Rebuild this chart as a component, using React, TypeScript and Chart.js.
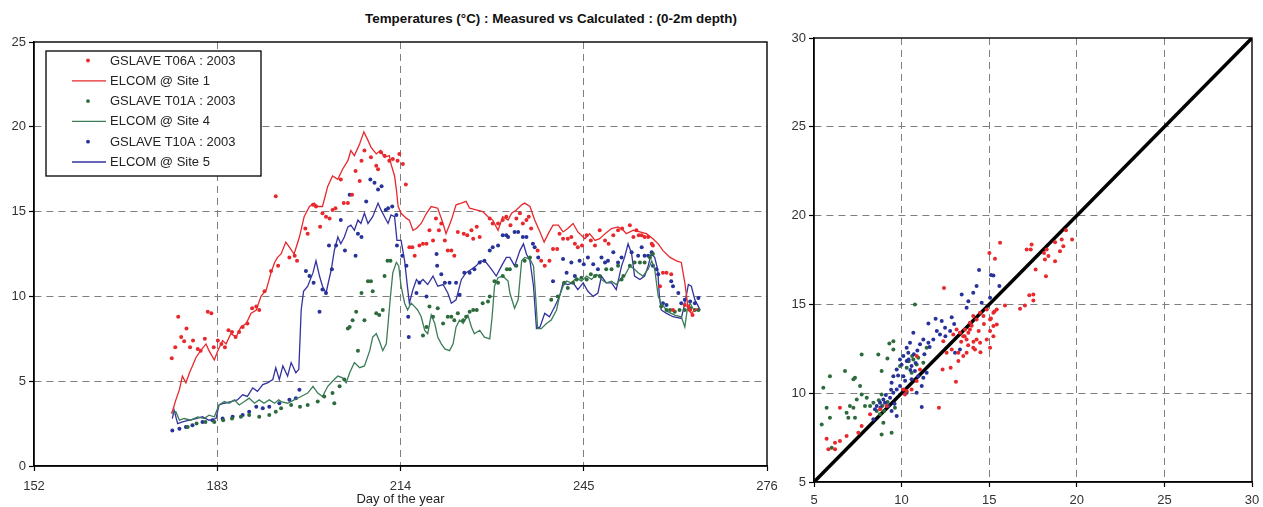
import React, { useEffect, useRef } from "react";
import { Chart, registerables } from "chart.js";

Chart.register(...registerables);

const FONT = "'Liberation Sans', Arial, Helvetica, sans-serif";

// ---------- Tick labels ----------
const dayTicks = [152, 183, 214, 245, 276];
const tempTicks = [0, 5, 10, 15, 20, 25];
const scatterTicks = [5, 10, 15, 20, 25, 30];

// ---------- Left panel: ELCOM model lines ----------
const site1Days = [175.2, 175.4, 176.0, 176.6, 177.1, 177.7, 178.3, 178.8, 179.4, 180.2, 181.1, 181.6, 182.5, 183.1, 183.9, 184.5, 185.3, 186.2, 187.0, 187.9, 188.7, 189.6, 190.4, 191.3, 192.1, 192.7, 193.2, 193.8, 194.6, 195.2, 196.0, 196.9, 197.7, 198.6, 199.4, 200.0, 200.8, 201.1, 201.7, 202.5, 203.4, 204.2, 205.1, 205.6, 206.2, 207.1, 207.8, 208.5, 209.0, 209.9, 210.6, 211.3, 212.1, 212.4, 213.0, 213.3, 213.6, 214.1, 215.0, 215.5, 216.1, 216.7, 217.5, 218.4, 219.2, 220.3, 221.2, 221.7, 222.6, 223.4, 224.3, 225.1, 225.7, 226.8, 227.9, 228.8, 229.6, 230.5, 231.3, 232.2, 232.8, 233.6, 234.5, 235.0, 235.9, 236.7, 237.6, 238.3, 239.0, 239.8, 240.7, 241.5, 242.3, 243.2, 244.0, 245.2, 246.0, 246.9, 247.7, 248.6, 249.7, 250.8, 251.7, 252.2, 253.4, 254.5, 255.6, 256.7, 257.6, 258.4, 259.6, 260.7, 261.5, 262.1, 262.4, 262.7, 263.2, 263.8, 264.4];
const site1Temps = [3.1, 3.2, 3.9, 4.5, 5.3, 4.9, 5.5, 5.9, 6.4, 6.8, 7.2, 6.8, 6.25, 6.8, 7.4, 7.2, 7.8, 7.6, 8.2, 8.4, 9.0, 9.2, 10.0, 10.4, 11.4, 12.0, 12.3, 12.5, 13.2, 12.9, 12.5, 13.5, 14.7, 15.3, 15.5, 15.3, 15.3, 15.7, 16.5, 17.1, 16.9, 17.5, 18.0, 18.6, 18.3, 19.0, 19.7, 19.2, 18.8, 18.4, 18.6, 18.2, 18.3, 17.8, 17.1, 16.3, 15.3, 14.9, 14.6, 14.5, 13.9, 14.0, 14.3, 14.9, 15.3, 15.2, 14.3, 13.7, 14.5, 15.4, 15.5, 15.6, 15.2, 15.1, 15.0, 14.7, 14.5, 13.9, 14.7, 14.5, 14.9, 15.1, 15.4, 15.5, 15.3, 14.5, 13.8, 13.2, 13.7, 14.2, 14.2, 13.8, 14.0, 14.3, 13.8, 13.4, 13.7, 13.3, 13.4, 13.7, 14.0, 14.1, 13.9, 13.7, 13.9, 13.8, 13.7, 13.4, 13.1, 12.7, 12.3, 12.1, 12.0, 10.8, 10.0, 9.2, 9.0, 9.2, 9.3];

const site4Days = [175.4, 176.0, 176.6, 177.4, 178.5, 179.7, 180.8, 181.6, 182.5, 183.3, 184.2, 185.0, 185.9, 186.7, 187.6, 188.4, 189.3, 190.1, 190.9, 191.8, 192.7, 193.4, 193.8, 194.9, 196.0, 197.2, 198.3, 199.2, 200.0, 200.8, 201.7, 202.5, 203.4, 204.2, 204.8, 205.4, 206.2, 207.1, 207.9, 208.8, 209.3, 209.9, 210.4, 211.0, 211.6, 211.9, 212.3, 212.7, 213.3, 213.7, 214.1, 214.7, 215.2, 215.8, 216.4, 216.9, 217.5, 218.1, 218.6, 219.2, 219.8, 220.3, 220.9, 221.5, 222.3, 222.9, 223.4, 224.0, 224.6, 225.4, 226.0, 226.5, 227.4, 228.2, 229.1, 229.5, 229.9, 230.5, 231.3, 232.2, 232.5, 233.3, 233.9, 234.5, 235.0, 235.9, 236.5, 236.9, 237.2, 237.8, 238.7, 239.5, 240.4, 240.9, 241.5, 242.1, 242.9, 243.8, 244.6, 245.5, 246.3, 247.2, 248.0, 248.8, 249.7, 250.5, 251.4, 251.9, 252.8, 253.6, 254.2, 255.0, 255.9, 256.5, 257.0, 257.6, 258.1, 259.2, 260.4, 261.5, 262.1, 262.5, 263.0, 263.6, 264.4];
const site4Temps = [3.1, 3.2, 2.7, 2.8, 2.7, 2.9, 2.8, 3.0, 2.9, 3.6, 3.8, 3.7, 3.9, 3.6, 3.8, 4.0, 3.7, 3.9, 3.7, 3.9, 3.7, 3.9, 3.8, 3.7, 3.9, 4.1, 4.3, 4.7, 4.3, 4.1, 4.7, 5.0, 5.3, 5.2, 4.9, 5.5, 6.1, 5.8, 5.9, 6.8, 7.6, 7.8, 7.4, 6.8, 7.2, 8.4, 10.0, 11.4, 12.0, 11.8, 10.6, 9.6, 9.2, 9.6, 9.4, 9.2, 8.8, 8.0, 7.8, 8.9, 8.4, 7.6, 7.2, 6.9, 6.8, 7.2, 8.2, 8.6, 8.4, 8.9, 8.2, 7.8, 8.0, 7.6, 7.5, 8.8, 10.6, 11.1, 11.2, 10.9, 10.2, 9.3, 9.8, 12.1, 12.3, 12.2, 11.8, 9.8, 8.1, 8.1, 8.4, 8.6, 9.2, 10.0, 10.6, 10.9, 10.8, 11.1, 10.9, 11.2, 11.0, 11.3, 11.0, 10.8, 10.9, 10.7, 11.1, 11.2, 11.8, 11.6, 11.4, 11.2, 11.6, 12.1, 11.6, 10.0, 9.6, 9.1, 8.9, 8.8, 8.2, 9.2, 9.6, 9.2, 9.2];

const site5Days = [175.4, 175.7, 176.3, 177.1, 178.3, 179.4, 180.5, 181.6, 182.8, 183.3, 184.2, 185.3, 186.4, 187.3, 188.1, 189.0, 189.8, 190.7, 191.5, 192.4, 192.9, 193.5, 194.1, 194.9, 195.5, 196.3, 196.8, 197.2, 197.6, 198.3, 199.2, 199.7, 200.3, 200.8, 201.4, 202.3, 202.8, 203.4, 203.9, 204.5, 205.1, 205.6, 206.2, 206.8, 207.3, 207.9, 208.5, 209.3, 210.2, 210.7, 211.3, 211.9, 212.4, 213.0, 213.4, 214.1, 214.7, 215.1, 215.5, 216.1, 216.7, 217.2, 217.8, 218.6, 219.5, 220.3, 221.2, 222.0, 222.6, 223.4, 224.3, 225.1, 226.0, 226.8, 227.6, 228.5, 229.4, 230.2, 231.1, 231.9, 232.5, 233.3, 234.2, 234.8, 235.3, 235.9, 236.5, 237.0, 237.6, 238.4, 239.2, 240.1, 240.9, 241.5, 242.3, 243.2, 244.0, 244.9, 245.7, 246.6, 247.4, 248.0, 248.8, 249.7, 250.5, 251.4, 251.9, 252.5, 253.1, 253.6, 254.5, 255.3, 255.9, 256.4, 257.0, 257.5, 257.8, 258.1, 259.0, 260.1, 261.5, 262.1, 262.7, 263.2, 263.8, 264.4, 264.7];
const site5Temps = [2.8, 3.3, 2.5, 2.6, 2.7, 2.8, 2.9, 2.7, 2.8, 3.6, 3.7, 3.8, 3.9, 4.2, 4.1, 4.6, 4.4, 4.8, 4.9, 5.1, 5.8, 5.1, 5.9, 5.3, 6.1, 5.5, 5.7, 9.2, 10.3, 10.6, 11.4, 12.1, 11.2, 10.6, 10.2, 11.6, 12.7, 13.5, 13.1, 13.5, 14.1, 14.2, 13.9, 14.5, 14.3, 14.9, 14.3, 14.7, 15.5, 15.1, 14.7, 14.3, 14.8, 14.7, 13.3, 13.3, 12.1, 10.8, 9.6, 10.4, 11.0, 10.8, 11.0, 10.7, 11.2, 10.6, 10.7, 10.2, 9.6, 9.8, 11.0, 11.4, 11.6, 11.8, 12.1, 12.0, 11.6, 11.2, 11.8, 12.3, 12.3, 11.8, 12.7, 13.1, 12.5, 12.1, 10.6, 8.1, 8.2, 9.0, 8.8, 9.4, 10.0, 10.8, 10.7, 10.8, 10.4, 10.8, 10.3, 10.0, 10.2, 11.2, 10.8, 10.8, 10.4, 11.8, 12.3, 13.1, 12.5, 11.2, 11.0, 11.2, 11.8, 12.5, 12.3, 11.6, 10.0, 9.2, 9.0, 8.8, 8.7, 9.6, 10.7, 10.6, 9.8, 9.4, 9.2];

// ---------- Left panel: GSLAVE measurements ----------
const t06aDays = [175.3, 175.9, 176.4, 176.9, 177.4, 177.8, 178.4, 178.9, 179.7, 180.2, 180.9, 181.4, 182.0, 182.4, 183.1, 183.7, 184.3, 184.9, 185.5, 186.1, 186.7, 187.3, 188.1, 188.9, 189.6, 190.1, 191.0, 192.1, 192.9, 193.3, 195.2, 196.1, 196.5, 197.9, 198.3, 199.2, 199.7, 200.4, 200.8, 201.4, 202.0, 202.5, 203.0, 203.9, 204.4, 205.1, 205.8, 206.4, 207.1, 207.4, 207.9, 209.0, 209.9, 210.2, 210.7, 211.3, 212.1, 212.7, 213.5, 213.8, 214.4, 214.9, 215.5, 216.0, 216.4, 217.2, 217.8, 218.4, 218.9, 219.5, 220.0, 220.5, 220.9, 221.5, 222.0, 222.6, 223.1, 223.7, 224.7, 225.3, 226.0, 226.3, 226.9, 227.4, 229.1, 229.6, 230.5, 231.3, 231.9, 232.6, 233.6, 234.2, 234.7, 235.3, 235.7, 236.1, 237.2, 237.8, 238.4, 239.2, 239.8, 240.5, 240.9, 241.5, 242.3, 242.9, 243.5, 244.0, 244.7, 245.5, 246.2, 246.9, 247.7, 248.6, 249.2, 250.0, 250.8, 251.5, 252.8, 253.4, 253.9, 254.3, 254.8, 255.3, 255.9, 256.5, 256.7, 257.9, 258.4, 259.0, 259.8, 260.1, 262.1, 262.7, 263.0, 263.4];
const t06aTemps = [6.35, 7.0, 8.8, 7.6, 7.35, 8.1, 7.0, 7.4, 6.9, 6.8, 7.5, 9.1, 9.0, 7.0, 7.4, 7.2, 7.0, 8.0, 7.9, 7.6, 7.9, 8.2, 8.4, 9.3, 9.4, 9.2, 10.3, 11.5, 15.9, 11.8, 12.3, 12.4, 12.1, 14.0, 13.7, 15.4, 15.3, 14.1, 14.9, 14.7, 14.6, 15.1, 15.2, 16.9, 15.5, 15.5, 16.0, 17.4, 16.8, 18.0, 18.6, 18.2, 17.7, 17.5, 18.5, 18.3, 18.0, 18.1, 18.0, 18.4, 17.8, 16.6, 12.9, 12.9, 12.4, 13.0, 13.1, 13.1, 13.9, 13.3, 14.6, 13.9, 14.3, 13.3, 12.7, 12.7, 12.4, 13.8, 13.7, 13.6, 13.9, 13.4, 14.1, 13.5, 14.6, 14.3, 14.3, 14.5, 14.7, 14.2, 14.6, 14.9, 14.3, 14.5, 14.7, 14.0, 12.7, 12.1, 11.8, 12.1, 12.8, 12.8, 13.7, 13.4, 13.4, 13.5, 13.1, 12.9, 13.0, 13.6, 13.3, 13.0, 13.9, 13.3, 13.1, 13.6, 13.9, 14.0, 14.2, 13.5, 13.9, 13.6, 13.6, 13.5, 13.5, 13.1, 13.0, 10.6, 11.4, 11.4, 11.3, 9.2, 9.5, 9.4, 9.2, 8.9];

const t01aDays = [178.0, 179.5, 181.0, 182.5, 184.0, 185.5, 187.0, 188.4, 190.1, 191.8, 192.9, 193.8, 195.5, 197.0, 198.3, 200.0, 201.1, 202.5, 202.8, 203.7, 204.5, 205.1, 205.4, 205.9, 206.5, 206.8, 207.4, 207.9, 208.5, 209.0, 209.3, 209.9, 210.4, 211.0, 211.3, 211.8, 212.3, 217.8, 218.4, 218.9, 219.5, 220.3, 221.2, 222.0, 222.6, 223.1, 223.7, 224.6, 225.1, 225.7, 226.3, 226.9, 227.9, 228.8, 229.1, 229.9, 230.5, 231.3, 232.0, 232.5, 233.6, 235.0, 235.9, 239.5, 240.6, 241.7, 242.3, 243.2, 243.8, 244.6, 245.5, 246.2, 246.9, 247.7, 248.8, 249.7, 250.8, 251.4, 251.7, 252.8, 253.6, 254.5, 255.3, 256.2, 256.7, 258.1, 259.0, 259.6, 260.4, 261.2, 262.1, 263.0, 263.8, 264.4];
const t01aTemps = [2.3, 2.5, 2.6, 2.6, 2.7, 2.8, 2.9, 3.0, 2.9, 3.0, 3.2, 3.4, 3.6, 3.5, 3.6, 3.8, 4.1, 4.3, 3.7, 4.7, 5.1, 8.1, 8.2, 8.6, 9.1, 6.8, 10.2, 8.6, 10.9, 10.9, 10.3, 9.0, 8.9, 9.2, 11.2, 12.1, 12.1, 7.7, 8.2, 9.4, 8.8, 9.3, 8.4, 8.8, 8.8, 8.6, 9.0, 8.6, 8.8, 9.1, 9.2, 9.2, 9.6, 9.7, 10.0, 10.9, 10.8, 11.2, 11.6, 11.6, 11.8, 12.1, 12.3, 9.8, 10.0, 10.8, 10.5, 10.8, 11.0, 11.1, 11.0, 11.3, 11.2, 11.2, 11.6, 11.6, 11.8, 11.0, 11.2, 11.8, 12.0, 12.0, 12.0, 12.3, 12.5, 9.4, 9.2, 9.2, 9.1, 9.2, 9.2, 9.3, 9.2, 9.2];

const t10aDays = [175.4, 176.6, 177.7, 178.8, 180.5, 182.2, 183.9, 185.6, 187.3, 188.4, 189.6, 190.7, 191.8, 193.5, 195.2, 196.3, 196.9, 198.0, 198.6, 199.3, 200.3, 200.8, 201.4, 201.9, 202.4, 203.1, 203.9, 204.6, 205.4, 206.4, 206.8, 207.4, 208.2, 208.9, 209.6, 210.2, 210.8, 211.5, 211.9, 212.6, 213.3, 213.4, 214.3, 215.0, 215.3, 215.4, 216.7, 217.2, 218.4, 220.1, 220.2, 220.9, 221.5, 222.3, 223.4, 224.0, 224.8, 225.7, 226.5, 227.4, 228.2, 229.1, 229.6, 230.5, 231.3, 231.9, 232.2, 233.3, 233.9, 234.7, 235.3, 236.4, 236.7, 237.3, 239.8, 241.5, 242.1, 242.9, 243.5, 244.3, 245.0, 245.7, 246.6, 247.4, 248.0, 248.6, 249.1, 250.0, 250.8, 251.4, 253.1, 254.2, 254.8, 255.3, 255.9, 256.5, 256.7, 257.3, 257.6, 258.4, 259.0, 259.8, 260.1, 261.0, 261.5, 262.1, 263.0, 263.8, 264.4];
const t10aTemps = [2.1, 2.2, 2.3, 2.4, 2.6, 2.7, 2.8, 2.9, 3.0, 3.2, 3.5, 3.4, 3.5, 3.7, 3.9, 4.0, 4.5, 11.5, 11.2, 10.8, 9.1, 10.4, 10.2, 13.0, 11.6, 13.0, 14.5, 12.7, 16.0, 12.4, 13.7, 13.5, 15.6, 16.9, 16.7, 16.3, 16.5, 15.1, 15.2, 15.3, 14.8, 13.0, 12.4, 11.8, 8.8, 7.6, 10.2, 10.8, 10.0, 12.5, 11.8, 11.3, 10.8, 10.8, 10.8, 10.1, 11.4, 11.4, 11.6, 12.0, 12.1, 12.7, 12.9, 13.0, 13.6, 13.6, 13.5, 13.8, 13.8, 13.5, 13.5, 13.1, 12.9, 12.3, 10.9, 12.2, 11.4, 12.0, 11.2, 12.1, 11.9, 12.3, 11.9, 11.6, 12.3, 12.0, 12.1, 12.6, 12.0, 12.3, 12.6, 12.4, 12.9, 12.4, 12.4, 12.6, 11.8, 11.6, 11.3, 9.6, 9.5, 10.9, 10.6, 10.2, 9.6, 9.8, 9.7, 9.6, 9.9];

// ---------- Right panel: scatter comparison ----------
const t06aX = [5.72, 5.82, 6.2, 6.2, 6.48, 6.48, 6.86, 7.53, 7.72, 8.2, 8.77, 9.15, 10.1, 10.19, 10.29, 10.57, 10.86, 11.05, 10.86, 12.13, 13.1, 12.34, 12.8, 13.24, 12.38, 12.57, 12.86, 13.24, 13.52, 13.71, 12.95, 13.14, 13.33, 13.52, 13.62, 13.71, 13.81, 13.9, 13.9, 14.09, 14.28, 14.48, 14.67, 14.86, 15.05, 15.24, 15.43, 15.24, 15.43, 15.05, 15.24, 14.86, 15.05, 14.48, 14.28, 14.09, 14.19, 12.42, 15.9, 15.62, 15.01, 15.33, 16.76, 17.04, 17.29, 17.52, 17.52, 17.14, 17.37, 17.42, 17.65, 18.13, 18.24, 18.28, 18.18, 18.38, 18.76, 18.76, 19.04, 19.14, 19.23, 19.38, 19.73, 13.6, 14.0, 14.4, 14.7, 13.4, 13.8, 14.1, 14.5, 15.1, 15.3];
const t06aY = [7.44, 6.84, 6.84, 7.21, 7.31, 9.18, 7.59, 7.78, 8.15, 8.81, 9.09, 9.28, 10.21, 9.93, 10.12, 10.21, 10.68, 11.34, 12.09, 9.18, 10.65, 11.34, 11.43, 11.81, 12.93, 12.28, 12.46, 12.28, 12.09, 12.28, 13.31, 13.59, 13.4, 13.21, 13.59, 13.03, 13.4, 13.59, 13.96, 14.34, 14.15, 14.53, 14.34, 14.71, 14.15, 14.53, 14.71, 13.78, 13.87, 13.5, 13.21, 13.03, 12.56, 12.84, 13.03, 12.56, 12.46, 15.93, 14.94, 18.47, 17.9, 17.57, 14.75, 14.94, 15.52, 15.56, 15.22, 18.09, 18.09, 18.37, 16.97, 17.9, 16.59, 18.09, 17.53, 17.72, 17.43, 18.5, 17.99, 18.65, 18.28, 19.18, 18.65, 13.2, 13.8, 13.5, 13.9, 12.9, 12.7, 12.9, 12.3, 14.2, 14.6];

const t10aX = [14.42, 15.1, 15.24, 14.28, 15.58, 13.43, 14.09, 13.81, 14.57, 15.05, 13.71, 12.86, 11.94, 11.53, 12.29, 12.48, 12.77, 12.01, 12.19, 11.81, 11.53, 11.24, 11.05, 10.67, 10.48, 10.29, 10.38, 10.1, 9.91, 10.29, 10.57, 10.76, 10.95, 11.24, 11.43, 11.15, 10.86, 10.57, 10.1, 9.72, 9.53, 9.43, 9.91, 10.29, 9.72, 9.53, 9.34, 8.96, 8.77, 9.05, 9.24, 9.43, 9.72, 8.58, 8.48, 8.39, 11.15, 13.33, 13.05, 10.0, 10.4, 10.7, 10.9, 11.3, 9.8, 10.2, 10.5, 10.8, 11.6, 12.5, 13.0, 9.1, 9.4, 8.8, 9.6];
const t10aY = [16.93, 16.65, 16.63, 16.03, 16.03, 15.56, 15.65, 15.18, 15.09, 15.37, 14.81, 14.28, 14.19, 13.93, 14.06, 13.68, 13.5, 13.5, 13.31, 13.03, 12.84, 13.03, 12.75, 13.4, 12.84, 12.56, 12.28, 12.09, 11.9, 11.81, 11.53, 11.25, 10.96, 10.87, 11.15, 10.4, 10.03, 10.78, 10.96, 11.34, 10.96, 10.59, 10.4, 10.03, 10.21, 10.03, 9.74, 9.65, 9.46, 9.46, 9.28, 9.0, 8.71, 9.28, 9.09, 8.53, 9.22, 12.46, 12.28, 11.6, 11.9, 12.2, 12.4, 12.2, 11.0, 10.7, 11.3, 11.7, 12.6, 13.2, 13.9, 9.9, 10.2, 9.2, 9.4];

const t01aX = [5.53, 5.91, 6.77, 7.34, 7.25, 7.72, 8.67, 9.19, 9.53, 9.53, 10.76, 7.63, 7.72, 7.44, 7.05, 6.86, 7.25, 7.34, 6.96, 8.01, 8.2, 7.91, 8.39, 8.58, 8.77, 8.96, 8.86, 9.43, 9.62, 5.91, 5.44, 5.72, 6.01, 8.86, 9.91, 10.29, 10.67, 10.86, 11.24, 11.43, 10.95, 10.57, 8.86, 8.9, 9.0, 9.2, 8.7, 10.4, 10.6, 9.3];
const t01aY = [10.31, 10.96, 11.25, 10.87, 10.78, 12.18, 12.18, 11.96, 12.93, 12.46, 15.0, 10.4, 9.93, 9.65, 9.28, 8.9, 9.18, 8.62, 8.62, 9.74, 9.28, 9.28, 9.46, 9.0, 8.81, 8.34, 7.68, 7.78, 9.18, 8.62, 8.24, 9.18, 6.93, 11.25, 11.53, 11.43, 11.9, 11.62, 11.71, 12.56, 11.99, 11.15, 9.93, 9.3, 9.0, 9.5, 9.6, 11.8, 12.1, 12.8];

const oneToOne = [5, 30];

// ---------- Colours ----------
const RED = "#e8282c";
const GREEN_LINE = "#3c7c58";
const GREEN_DOT = "#2d6b3c";
const BLUE_LINE = "#34329e";
const BLUE_DOT = "#27339a";

const pairs = (xs: number[], ys: number[]) => xs.map((x, i) => ({ x, y: ys[i] }));

const framePlugin = {
  id: "frame",
  afterDraw(chart: any) {
    const { ctx, chartArea } = chart;
    ctx.save();
    ctx.strokeStyle = "#000";
    ctx.lineWidth = 1.4;
    ctx.strokeRect(chartArea.left, chartArea.top, chartArea.right - chartArea.left, chartArea.bottom - chartArea.top);
    ctx.restore();
  },
};

const boxLegendPlugin = {
  id: "boxLegend",
  afterDatasetsDraw(chart: any) {
    const { ctx, chartArea } = chart;
    const bx = chartArea.left + 12;
    const by = chartArea.top + 9;
    const bw = 215;
    const bh = 125;
    ctx.save();
    ctx.fillStyle = "#fff";
    ctx.fillRect(bx, by, bw, bh);
    ctx.strokeStyle = "#000";
    ctx.lineWidth = 1.3;
    ctx.strokeRect(bx, by, bw, bh);
    ctx.font = `13px ${FONT}`;
    ctx.textBaseline = "middle";
    ctx.textAlign = "left";
    chart.data.datasets.forEach((ds: any, i: number) => {
      const y = by + 9.5 + i * 20.3;
      if (ds.showLine) {
        ctx.strokeStyle = ds.borderColor;
        ctx.lineWidth = 1.3;
        ctx.beginPath();
        ctx.moveTo(bx + 26, y);
        ctx.lineTo(bx + 60, y);
        ctx.stroke();
      } else {
        ctx.fillStyle = ds.backgroundColor;
        ctx.beginPath();
        ctx.arc(bx + 42, y, 1.9, 0, Math.PI * 2);
        ctx.fill();
      }
      ctx.fillStyle = "#222";
      ctx.fillText(ds.label, bx + 64, y + 0.5);
    });
    ctx.restore();
  },
};

function axisOptions(tickValues: number[], min: number, max: number, pad: number, extra: any) {
  return {
    type: "linear",
    min,
    max,
    afterBuildTicks: (scale: any) => {
      scale.ticks = tickValues.map((v) => ({ value: v }));
    },
    ticks: {
      color: "#333",
      font: { family: FONT, size: 13 },
      padding: pad,
      autoSkip: false,
      maxRotation: 0,
      callback: (v: any) => String(v),
    },
    grid: {
      color: (c: any) => (c.tick && (c.tick.value === min || c.tick.value === max) ? "rgba(0,0,0,0)" : "#7f7f7f"),
      lineWidth: 1,
      tickColor: "#000",
      tickLength: 5,
      tickWidth: 1.2,
      drawTicks: true,
    },
    border: { display: true, color: "#000", width: 1.4, dash: [7, 5] },
    ...extra,
  };
}

const fixHeight = (h: number) => (s: any) => {
  s.height = h;
  s.paddingLeft = 0;
  s.paddingRight = 0;
};
const fixWidth = (w: number) => (s: any) => {
  s.width = w;
  s.paddingTop = 0;
  s.paddingBottom = 0;
};

export default function App() {
  const leftRef = useRef<HTMLCanvasElement | null>(null);
  const rightRef = useRef<HTMLCanvasElement | null>(null);

  useEffect(() => {
    const dot = (label: string, xs: number[], ys: number[], color: string) => ({
      label,
      data: pairs(xs, ys),
      showLine: false,
      pointRadius: 2,
      pointBorderWidth: 0,
      backgroundColor: color,
      borderColor: color,
    });
    const line = (label: string, xs: number[], ys: number[], color: string) => ({
      label,
      data: pairs(xs, ys),
      showLine: true,
      pointRadius: 0,
      borderWidth: 1.3,
      tension: 0,
      borderColor: color,
      backgroundColor: color,
    });

    const left = new Chart(leftRef.current as HTMLCanvasElement, {
      type: "scatter",
      data: {
        datasets: [
          dot("GSLAVE T06A : 2003", t06aDays, t06aTemps, RED),
          line("ELCOM @ Site 1", site1Days, site1Temps, RED),
          dot("GSLAVE T01A : 2003", t01aDays, t01aTemps, GREEN_DOT),
          line("ELCOM @ Site 4", site4Days, site4Temps, GREEN_LINE),
          dot("GSLAVE T10A : 2003", t10aDays, t10aTemps, BLUE_DOT),
          line("ELCOM @ Site 5", site5Days, site5Temps, BLUE_LINE),
        ] as any,
      },
      options: {
        responsive: false,
        animation: false,
        layout: { padding: { top: 42, right: 13, left: 0, bottom: 0 } },
        plugins: { legend: { display: false }, tooltip: { enabled: false }, title: { display: false } },
        scales: {
          x: axisOptions(dayTicks, 152, 276, 8, {
            afterFit: fixHeight(41),
            title: {
              display: true,
              text: "Day of the year",
              color: "#222",
              font: { family: FONT, size: 13 },
              padding: { top: 0, bottom: 0 },
            },
          }),
          y: axisOptions(tempTicks, 0, 25, 3, { afterFit: fixWidth(34) }),
        } as any,
      },
      plugins: [boxLegendPlugin, framePlugin],
    });

    const right = new Chart(rightRef.current as HTMLCanvasElement, {
      type: "scatter",
      data: {
        datasets: [
          dot("GSLAVE T06A : 2003", t06aX, t06aY, RED),
          dot("GSLAVE T10A : 2003", t10aX, t10aY, BLUE_DOT),
          dot("GSLAVE T01A : 2003", t01aX, t01aY, GREEN_DOT),
          {
            label: "1:1",
            data: pairs(oneToOne, oneToOne),
            showLine: true,
            pointRadius: 0,
            borderWidth: 3.5,
            borderColor: "#000",
            backgroundColor: "#000",
          },
        ] as any,
      },
      options: {
        responsive: false,
        animation: false,
        layout: { padding: { top: 38, right: 11, left: 0, bottom: 0 } },
        plugins: { legend: { display: false }, tooltip: { enabled: false } },
        scales: {
          x: axisOptions(scatterTicks, 5, 30, 6, { afterFit: fixHeight(25) }),
          y: axisOptions(scatterTicks, 5, 30, 3, { afterFit: fixWidth(34) }),
        } as any,
      },
      plugins: [framePlugin],
    });

    return () => {
      left.destroy();
      right.destroy();
    };
  }, []);

  return (
    <div style={{ position: "absolute", left: 0, top: 0, width: 1263, height: 507, background: "#fff", overflow: "hidden" }}>
      <div
        style={{
          position: "absolute",
          left: 551,
          top: 11,
          transform: "translateX(-50%)",
          whiteSpace: "nowrap",
          fontFamily: FONT,
          fontWeight: "bold",
          fontSize: 13.4,
          lineHeight: "16px",
          color: "#111",
        }}
      >
        Temperatures (°C) : Measured vs Calculated : (0-2m depth)
      </div>
      <canvas ref={leftRef} width={780} height={507} style={{ position: "absolute", left: 0, top: 0 }} />
      <canvas ref={rightRef} width={483} height={507} style={{ position: "absolute", left: 780, top: 0 }} />
    </div>
  );
}
